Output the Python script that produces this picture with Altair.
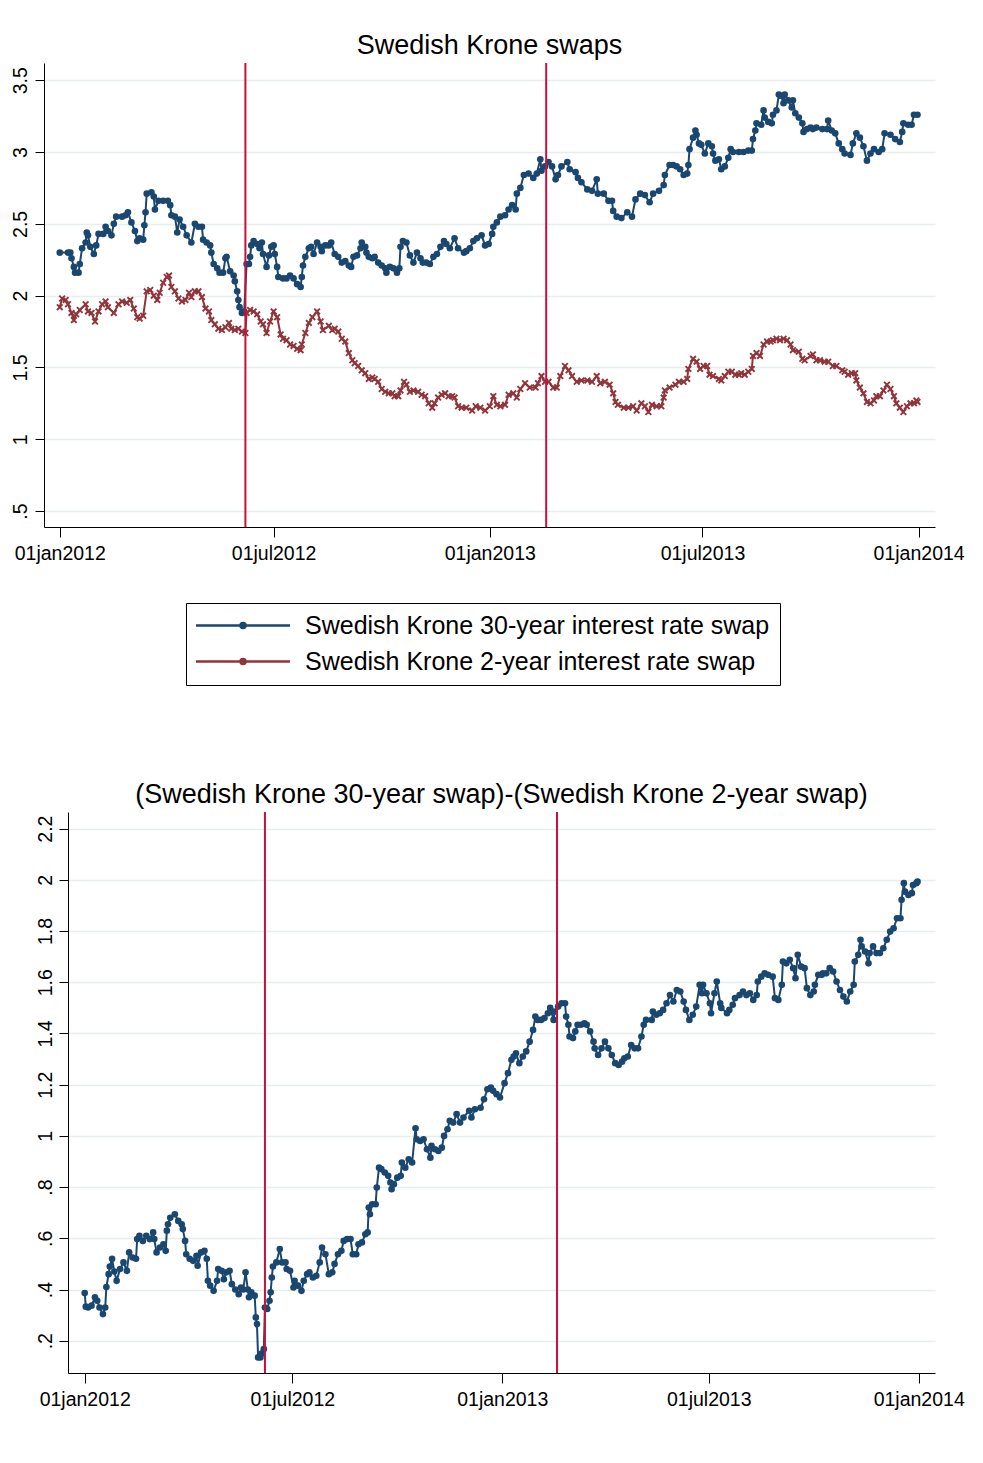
import altair as alt
import pandas as pd

FONT = "Liberation Sans"
NAVY = "#1a476f"
MAROON = "#90353b"
EVENT_RED = "#c8103a"
GRID = "#e7eef0"

SERIES = ["Swedish Krone 30-year interest rate swap",
          "Swedish Krone 2-year interest rate swap"]
TITLE_TOP = "Swedish Krone swaps"
TITLE_BOTTOM = "(Swedish Krone 30-year swap)-(Swedish Krone 2-year swap)"
BASE_DATE = "2012-01-01"
X_TICKS = [(2012, 1, 1), (2012, 7, 1), (2013, 1, 1), (2013, 7, 1), (2014, 1, 1)]
Y_TICKS_TOP = [0.5, 1, 1.5, 2, 2.5, 3, 3.5]
Y_TICKS_BOTTOM = [0.2, 0.4, 0.6, 0.8, 1, 1.2, 1.4, 1.6, 1.8, 2, 2.2]
EVENT_DAYS = [158, 414]

# (days since 01jan2012, value)
swap30 = [
    (0, 2.30), (7, 2.30), (9, 2.30), (10, 2.26), (12, 2.20), (13, 2.16), (16, 2.16), (17, 2.22),
    (19, 2.33), (22, 2.37), (23, 2.44), (24, 2.42), (26, 2.34), (29, 2.29), (31, 2.35), (33, 2.43),
    (37, 2.43), (39, 2.48), (41, 2.45), (44, 2.42), (46, 2.50), (48, 2.55), (53, 2.55), (56, 2.56),
    (58, 2.58), (61, 2.51), (64, 2.45), (66, 2.38), (68, 2.40), (71, 2.39), (72, 2.49), (73, 2.58),
    (74, 2.71), (78, 2.72), (80, 2.69), (81, 2.60), (84, 2.66), (88, 2.66), (92, 2.66), (94, 2.63),
    (95, 2.56), (98, 2.55), (100, 2.44), (102, 2.53), (105, 2.48), (108, 2.42), (112, 2.37), (115, 2.50),
    (118, 2.48), (121, 2.48), (122, 2.39), (125, 2.37), (128, 2.35), (129, 2.30), (131, 2.22), (134, 2.19),
    (136, 2.16), (139, 2.16), (141, 2.26), (142, 2.27), (145, 2.17), (148, 2.14), (149, 2.10), (151, 2.03),
    (152, 1.97), (153, 1.92), (155, 1.88), (157, 1.89), (159, 2.22), (161, 2.22), (162, 2.27), (163, 2.35),
    (165, 2.38), (168, 2.36), (170, 2.33), (172, 2.37), (173, 2.29), (176, 2.20), (178, 2.28), (180, 2.34),
    (182, 2.35), (183, 2.29), (185, 2.20), (186, 2.13), (190, 2.12), (193, 2.12), (196, 2.14), (199, 2.12),
    (202, 2.08), (205, 2.06), (206, 2.13), (207, 2.21), (209, 2.27), (212, 2.33), (214, 2.34), (216, 2.29),
    (219, 2.37), (222, 2.34), (223, 2.31), (226, 2.35), (229, 2.35), (231, 2.37), (234, 2.29), (237, 2.27),
    (240, 2.23), (243, 2.24), (246, 2.21), (248, 2.20), (250, 2.27), (253, 2.28), (256, 2.33), (257, 2.37),
    (260, 2.34), (261, 2.30), (263, 2.27), (266, 2.26), (268, 2.27), (271, 2.23), (274, 2.21), (277, 2.19),
    (278, 2.16), (281, 2.20), (284, 2.19), (287, 2.16), (289, 2.19), (290, 2.34), (292, 2.38), (295, 2.37),
    (298, 2.28), (301, 2.23), (304, 2.30), (307, 2.26), (309, 2.23), (312, 2.23), (315, 2.22), (318, 2.27),
    (321, 2.29), (324, 2.34), (327, 2.38), (329, 2.36), (332, 2.33), (336, 2.40), (339, 2.33), (344, 2.30),
    (346, 2.31), (349, 2.33), (352, 2.38), (355, 2.40), (359, 2.42), (362, 2.35), (365, 2.36), (368, 2.43),
    (369, 2.48), (372, 2.51), (375, 2.55), (379, 2.56), (382, 2.60), (385, 2.63), (388, 2.60), (389, 2.71),
    (392, 2.75), (395, 2.84), (399, 2.85), (403, 2.82), (406, 2.85), (409, 2.95), (410, 2.87), (413, 2.90),
    (416, 2.93), (419, 2.90), (422, 2.81), (424, 2.84), (427, 2.90), (432, 2.93), (434, 2.88), (439, 2.86),
    (441, 2.82), (444, 2.79), (449, 2.74), (453, 2.73), (457, 2.81), (458, 2.71), (463, 2.71), (467, 2.66),
    (470, 2.66), (471, 2.59), (474, 2.55), (478, 2.54), (483, 2.58), (487, 2.55), (490, 2.67), (494, 2.71),
    (498, 2.70), (502, 2.65), (505, 2.71), (510, 2.73), (514, 2.77), (515, 2.84), (519, 2.91), (522, 2.91),
    (525, 2.90), (528, 2.88), (531, 2.84), (534, 2.85), (535, 2.91), (536, 3.02), (539, 3.10), (541, 3.15),
    (542, 3.12), (544, 3.06), (546, 3.05), (549, 2.99), (552, 3.06), (555, 3.04), (556, 2.99), (558, 2.94),
    (561, 2.95), (563, 2.88), (566, 2.90), (569, 2.96), (571, 3.02), (573, 3.00), (578, 3.00), (582, 3.00),
    (586, 3.01), (589, 3.01), (590, 3.09), (592, 3.15), (593, 3.20), (597, 3.19), (599, 3.29), (600, 3.24),
    (603, 3.21), (606, 3.20), (607, 3.26), (610, 3.29), (612, 3.40), (614, 3.39), (616, 3.34), (617, 3.40),
    (620, 3.36), (623, 3.31), (624, 3.36), (626, 3.27), (629, 3.24), (632, 3.20), (633, 3.14), (636, 3.16),
    (639, 3.17), (641, 3.16), (644, 3.17), (649, 3.16), (653, 3.16), (654, 3.22), (657, 3.15), (660, 3.13),
    (663, 3.06), (666, 3.02), (668, 2.99), (673, 2.98), (675, 3.06), (678, 3.13), (681, 3.10), (684, 3.04),
    (687, 2.94), (690, 2.99), (693, 3.02), (697, 3.00), (700, 3.02), (702, 3.13), (707, 3.12), (711, 3.09),
    (715, 3.07), (717, 3.14), (718, 3.20), (722, 3.19), (725, 3.19), (727, 3.26), (730, 3.26),
]

swap2 = [
    (0, 1.92), (2, 1.98), (5, 1.97), (7, 1.94), (10, 1.88), (12, 1.83), (14, 1.87), (17, 1.90),
    (22, 1.94), (24, 1.89), (27, 1.88), (30, 1.82), (33, 1.89), (36, 1.94), (39, 1.96), (41, 1.92),
    (46, 1.88), (50, 1.94), (53, 1.96), (57, 1.95), (60, 1.97), (63, 1.91), (66, 1.85), (68, 1.84),
    (71, 1.86), (74, 2.03), (77, 2.04), (80, 2.00), (83, 1.97), (85, 2.02), (88, 2.09), (91, 2.13),
    (93, 2.14), (95, 2.06), (98, 2.03), (101, 1.98), (104, 1.96), (107, 1.97), (110, 2.02), (112, 1.99),
    (115, 2.03), (118, 2.03), (121, 1.99), (124, 1.91), (127, 1.89), (129, 1.83), (132, 1.80), (135, 1.77),
    (138, 1.76), (141, 1.78), (144, 1.81), (146, 1.77), (149, 1.76), (152, 1.77), (155, 1.75), (158, 1.74),
    (159, 1.88), (162, 1.90), (165, 1.89), (168, 1.87), (171, 1.82), (173, 1.80), (176, 1.74), (179, 1.82),
    (182, 1.89), (185, 1.85), (188, 1.73), (190, 1.70), (193, 1.69), (196, 1.66), (199, 1.65), (202, 1.63),
    (205, 1.62), (206, 1.66), (209, 1.74), (212, 1.81), (215, 1.85), (219, 1.89), (222, 1.82), (224, 1.76),
    (229, 1.79), (232, 1.76), (234, 1.77), (237, 1.75), (240, 1.70), (243, 1.68), (246, 1.60), (249, 1.55),
    (251, 1.53), (254, 1.51), (257, 1.48), (260, 1.46), (263, 1.42), (266, 1.43), (268, 1.42), (271, 1.40),
    (274, 1.35), (277, 1.33), (280, 1.32), (283, 1.32), (285, 1.30), (288, 1.30), (290, 1.34), (293, 1.40),
    (295, 1.38), (298, 1.33), (301, 1.34), (305, 1.33), (308, 1.31), (311, 1.30), (314, 1.25), (317, 1.22),
    (319, 1.25), (322, 1.29), (325, 1.31), (328, 1.32), (331, 1.30), (334, 1.30), (336, 1.29), (339, 1.23),
    (342, 1.22), (346, 1.22), (351, 1.20), (354, 1.23), (358, 1.22), (362, 1.20), (366, 1.23), (369, 1.30),
    (372, 1.24), (375, 1.23), (379, 1.24), (382, 1.31), (386, 1.32), (389, 1.29), (392, 1.35), (396, 1.39),
    (400, 1.36), (405, 1.36), (407, 1.39), (410, 1.44), (413, 1.40), (416, 1.40), (420, 1.36), (423, 1.36),
    (426, 1.44), (430, 1.51), (433, 1.48), (436, 1.44), (440, 1.40), (444, 1.41), (449, 1.41), (453, 1.40),
    (457, 1.44), (460, 1.39), (464, 1.40), (468, 1.38), (471, 1.32), (473, 1.26), (475, 1.24), (480, 1.22),
    (484, 1.22), (488, 1.23), (491, 1.20), (495, 1.25), (498, 1.23), (501, 1.19), (504, 1.24), (508, 1.23),
    (512, 1.23), (514, 1.29), (515, 1.34), (519, 1.36), (524, 1.38), (527, 1.40), (531, 1.40), (534, 1.42),
    (535, 1.49), (539, 1.56), (542, 1.54), (545, 1.49), (548, 1.51), (551, 1.51), (553, 1.45), (556, 1.44),
    (561, 1.42), (563, 1.41), (566, 1.44), (569, 1.47), (572, 1.47), (575, 1.45), (578, 1.45), (580, 1.46),
    (583, 1.45), (586, 1.47), (589, 1.49), (590, 1.58), (593, 1.60), (596, 1.58), (599, 1.66), (602, 1.68),
    (605, 1.68), (607, 1.69), (610, 1.70), (613, 1.69), (616, 1.70), (619, 1.69), (622, 1.66), (624, 1.62),
    (629, 1.61), (632, 1.56), (634, 1.55), (639, 1.58), (641, 1.59), (644, 1.55), (647, 1.55), (651, 1.54),
    (654, 1.54), (658, 1.51), (661, 1.51), (666, 1.48), (668, 1.47), (671, 1.45), (674, 1.46), (677, 1.46),
    (678, 1.41), (681, 1.36), (684, 1.32), (687, 1.26), (690, 1.25), (693, 1.27), (695, 1.30), (698, 1.30),
    (701, 1.34), (704, 1.38), (707, 1.35), (710, 1.30), (712, 1.25), (715, 1.22), (718, 1.19), (721, 1.23),
    (724, 1.25), (727, 1.25), (729, 1.27), (730, 1.26),
]

spread = [
    (0, 0.386), (1, 0.333), (3, 0.33), (6, 0.337), (9, 0.37), (11, 0.356), (13, 0.33), (16, 0.304),
    (18, 0.33), (19, 0.41), (21, 0.46), (22, 0.49), (24, 0.52), (26, 0.47), (28, 0.434), (31, 0.48),
    (34, 0.506), (37, 0.473), (39, 0.545), (42, 0.525), (45, 0.52), (46, 0.597), (48, 0.61), (51, 0.59),
    (54, 0.61), (57, 0.597), (60, 0.623), (61, 0.597), (63, 0.545), (66, 0.564), (69, 0.577), (71, 0.551),
    (72, 0.63), (73, 0.655), (75, 0.68), (79, 0.694), (82, 0.668), (85, 0.655), (86, 0.636), (88, 0.59),
    (89, 0.538), (92, 0.52), (95, 0.512), (98, 0.532), (99, 0.493), (102, 0.545), (105, 0.551), (107, 0.52),
    (108, 0.434), (110, 0.415), (113, 0.395), (116, 0.434), (117, 0.48), (120, 0.473), (122, 0.44), (124, 0.467),
    (127, 0.473), (129, 0.421), (132, 0.40), (135, 0.382), (137, 0.408), (139, 0.40), (141, 0.467), (143, 0.40),
    (144, 0.37), (146, 0.389), (149, 0.376), (150, 0.291), (151, 0.265), (152, 0.135), (154, 0.135), (155, 0.15),
    (157, 0.167), (158, 0.33), (160, 0.324), (162, 0.356), (163, 0.389), (164, 0.447), (165, 0.49), (168, 0.506),
    (171, 0.558), (173, 0.506), (176, 0.506), (177, 0.48), (180, 0.473), (183, 0.408), (184, 0.434), (187, 0.415),
    (190, 0.395), (192, 0.434), (195, 0.46), (197, 0.467), (200, 0.447), (203, 0.454), (206, 0.506), (208, 0.564),
    (211, 0.538), (214, 0.46), (217, 0.467), (219, 0.50), (222, 0.538), (225, 0.551), (227, 0.59), (230, 0.597),
    (233, 0.597), (235, 0.538), (238, 0.538), (240, 0.577), (243, 0.584), (246, 0.616), (248, 0.623), (249, 0.72),
    (250, 0.694), (252, 0.733), (255, 0.733), (256, 0.798), (258, 0.876), (260, 0.87), (263, 0.857), (266, 0.844),
    (268, 0.818), (269, 0.792), (271, 0.811), (274, 0.837), (277, 0.844), (278, 0.896), (281, 0.876), (284, 0.909),
    (287, 0.896), (290, 1.03), (291, 0.987), (294, 0.98), (297, 0.987), (300, 0.948), (303, 0.915), (304, 0.961),
    (307, 0.948), (310, 0.941), (313, 0.954), (315, 1.0), (318, 1.026), (320, 1.059), (323, 1.052), (326, 1.085),
    (329, 1.052), (332, 1.072), (337, 1.098), (339, 1.072), (342, 1.104), (347, 1.11), (350, 1.143), (353, 1.182),
    (356, 1.189), (358, 1.176), (361, 1.163), (364, 1.15), (368, 1.206), (371, 1.245), (374, 1.297), (376, 1.31),
    (378, 1.323), (381, 1.284), (384, 1.31), (387, 1.33), (390, 1.368), (393, 1.414), (395, 1.466), (397, 1.453),
    (400, 1.453), (403, 1.46), (406, 1.479), (408, 1.50), (411, 1.453), (412, 1.486), (415, 1.505), (418, 1.518),
    (421, 1.518), (422, 1.466), (424, 1.434), (425, 1.388), (428, 1.382), (430, 1.408), (432, 1.434), (435, 1.434),
    (438, 1.44), (440, 1.434), (443, 1.408), (446, 1.368), (447, 1.342), (450, 1.316), (453, 1.342), (456, 1.368),
    (459, 1.342), (462, 1.316), (465, 1.284), (468, 1.277), (471, 1.29), (473, 1.303), (476, 1.31), (479, 1.355),
    (482, 1.342), (485, 1.342), (488, 1.388), (490, 1.434), (492, 1.453), (497, 1.453), (498, 1.486), (501, 1.473),
    (504, 1.479), (507, 1.492), (510, 1.518), (513, 1.55), (516, 1.525), (519, 1.57), (522, 1.564), (525, 1.525),
    (527, 1.492), (530, 1.453), (533, 1.473), (536, 1.505), (539, 1.59), (541, 1.557), (542, 1.59), (545, 1.557),
    (548, 1.518), (549, 1.479), (552, 1.557), (554, 1.603), (557, 1.518), (558, 1.50), (563, 1.479), (565, 1.492),
    (568, 1.512), (570, 1.538), (574, 1.55), (577, 1.564), (580, 1.55), (583, 1.557), (586, 1.531), (589, 1.55),
    (590, 1.603), (593, 1.622), (596, 1.635), (599, 1.629), (603, 1.622), (605, 1.538), (608, 1.531), (611, 1.59),
    (612, 1.681), (615, 1.674), (618, 1.688), (621, 1.655), (623, 1.616), (625, 1.707), (628, 1.661), (631, 1.655),
    (633, 1.577), (636, 1.55), (639, 1.564), (640, 1.59), (643, 1.629), (646, 1.629), (647, 1.635), (650, 1.635),
    (653, 1.655), (656, 1.642), (659, 1.603), (662, 1.57), (665, 1.544), (668, 1.525), (671, 1.564), (674, 1.59),
    (675, 1.681), (678, 1.707), (680, 1.766), (681, 1.74), (684, 1.72), (687, 1.674), (688, 1.714), (691, 1.74),
    (694, 1.714), (697, 1.714), (700, 1.733), (703, 1.766), (706, 1.798), (709, 1.811), (712, 1.85), (715, 1.85),
    (716, 1.922), (718, 1.987), (719, 1.954), (722, 1.941), (725, 1.948), (726, 1.98), (729, 1.987), (730, 1.993),
]


def to_dates(days):
    idx = pd.Timestamp(BASE_DATE) + pd.to_timedelta(list(days), unit="D")
    return list(idx.strftime("%Y-%m-%d"))


def frame(pairs, name):
    return pd.DataFrame({
        "date": to_dates([p[0] for p in pairs]),
        "value": [p[1] for p in pairs],
        "series": name,
    })


df_top = pd.concat([frame(swap30, SERIES[0]), frame(swap2, SERIES[1])], ignore_index=True)
df_spread = frame(spread, "spread")
df_events = pd.DataFrame({"date": to_dates(EVENT_DAYS)})

XMARK = "M-1,-1L1,1M-1,1L1,-1"
# legend sample: horizontal line with a marker in the middle
LEG_SYMBOL = "M-9.4,0L9.4,0M-0.5,0A0.5,0.5,0,1,1,0.5,0A0.5,0.5,0,1,1,-0.5,0Z"

PLOT_W = 891


def x_enc(d0, d1, rng):
    return alt.X(
        "date:T",
        scale=alt.Scale(type="utc", domain=[d0, d1], nice=False, range=rng),
        axis=alt.Axis(
            values=[alt.DateTime(year=y, month=m, date=d, utc=True) for (y, m, d) in X_TICKS],
            labelExpr="lower(utcFormat(datum.value, '%d%b%Y'))",
            title=None, grid=False, tickSize=10, tickWidth=1, labelPadding=7,
            labelFlush=False, labelOverlap=False, labelFontSize=19.5, labelFont=FONT,
            labelColor="black", domainColor="black", tickColor="black", domainWidth=1,
        ),
    )


def y_enc(domain, ticks, pad, offset):
    return alt.Y(
        "value:Q",
        scale=alt.Scale(domain=domain, nice=False, zero=False),
        axis=alt.Axis(
            values=ticks, offset=offset,
            labelExpr="datum.value < 1 ? slice(format(datum.value, '.1f'), 1) : format(datum.value, '~g')",
            title=None, grid=True, gridColor=GRID, gridWidth=1.5, tickSize=9, tickWidth=1,
            labelAngle=270, labelAlign="center", labelBaseline="bottom", labelPadding=pad,
            minExtent=36, maxExtent=36, labelFontSize=19.5, labelFont=FONT,
            labelColor="black", domainColor="black", tickColor="black", domainWidth=1,
        ),
    )


def title(text, offset, dx):
    return alt.TitleParams(text=text, font=FONT, fontSize=27, fontWeight="normal", color="black",
                           anchor="middle", frame="group", offset=offset, dx=dx)


# ---------- top panel ----------
xt = x_enc(alt.DateTime(year=2011, month=12, date=18, hours=14, utc=True),
           alt.DateTime(year=2014, month=1, date=14, hours=22, utc=True), [0, PLOT_W])
yt = y_enc([0.389, 3.62], Y_TICKS_TOP, 5, 0)

leg = alt.Legend(
    title=None, orient="none", legendX=142, legendY=540, direction="vertical",
    symbolType=LEG_SYMBOL, symbolSize=100, symbolStrokeWidth=2.5, symbolOffset=34.5, labelOffset=49.5,
    labelFont=FONT, labelFontSize=25, labelColor="black", labelLimit=1000,
    strokeColor="black", fillColor="white", padding=10, rowPadding=10,
    labelExpr="datum.label + '\u00a0\u00a0'",
)

lines_top = alt.Chart(df_top).mark_line(strokeWidth=2).encode(
    x=xt, y=yt,
    color=alt.Color("series:N", scale=alt.Scale(domain=SERIES, range=[NAVY, MAROON]), legend=leg),
)
pts30 = alt.Chart(df_top).transform_filter(alt.datum.series == SERIES[0]).mark_point(
    filled=True, shape="circle", size=44, opacity=1, color=NAVY
).encode(x=xt, y=yt)
pts2 = alt.Chart(df_top).transform_filter(alt.datum.series == SERIES[1]).mark_point(
    filled=False, shape=XMARK, size=32, strokeWidth=1.9, opacity=1, color=MAROON
).encode(x=xt, y=yt)
rules_top = alt.Chart(df_events).mark_rule(color=EVENT_RED, strokeWidth=2).encode(x=alt.X("date:T"))

top = alt.layer(lines_top, pts30, pts2, rules_top).properties(
    width=PLOT_W, height=464, title=title(TITLE_TOP, 2, 0)
)

# ---------- bottom panel (plot area starts 24px further right) ----------
xb = x_enc(alt.DateTime(year=2011, month=12, date=17, hours=9, utc=True),
           alt.DateTime(year=2014, month=1, date=15, hours=7, utc=True), [24, PLOT_W])
yb = y_enc([0.074, 2.265], Y_TICKS_BOTTOM, 3.5, -24)

line_sp = alt.Chart(df_spread).mark_line(strokeWidth=2, color=NAVY).encode(x=xb, y=yb)
pts_sp = alt.Chart(df_spread).mark_point(filled=True, shape="circle", size=44, opacity=1, color=NAVY).encode(
    x=xb, y=yb)
rules_b = alt.Chart(df_events).mark_rule(color=EVENT_RED, strokeWidth=2).encode(x=alt.X("date:T"))

bottom = alt.layer(line_sp, pts_sp, rules_b).properties(
    width=PLOT_W, height=561, title=title(TITLE_BOTTOM, 2, 12)
)

chart = alt.vconcat(top, bottom, spacing=95).resolve_scale(color="independent").properties(
    padding={"left": 0, "top": 24, "right": 5, "bottom": 5},
    background="white",
).configure(font=FONT).configure_view(strokeWidth=0, stroke="transparent")

chart.save("out.html", embed_options={"renderer": "svg", "actions": False})
